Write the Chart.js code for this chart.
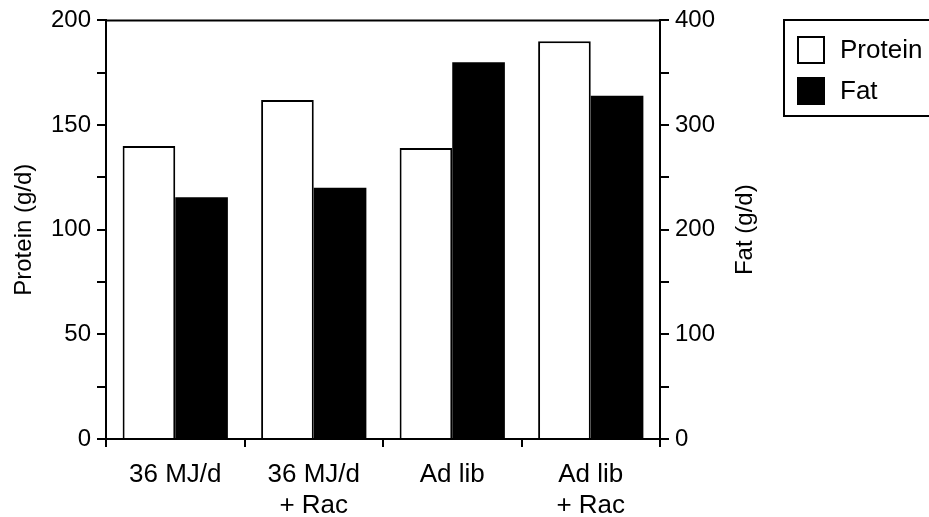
<!DOCTYPE html>
<html>
<head>
<meta charset="utf-8">
<title>Protein and fat</title>
<script src="https://cdn.jsdelivr.net/npm/chart.js"></script>
<style>
    body { margin: 0; background: #fff; }
    #chartContainer { width: 929px; height: 517px; }
</style>
</head>
<body>
<div id="chartContainer">
    <canvas id="myChart" width="929" height="517"></canvas>
</div>
<script>
/**
 * DATA
 */
const groups = [['36 MJ/d'], ['36 MJ/d', '+ Rac'], ['Ad lib'], ['Ad lib', '+ Rac']]
const proteinValues = [140, 162, 139, 190]   // g/d, left axis
const fatValues = [231, 240, 360, 328]       // g/d, right axis
const proteinTicks = [0, 50, 100, 150, 200]
const fatTicks = [0, 100, 200, 300, 400]
const fatAxisTitle = 'Fat (g/d)'

const fontFamily = '"Liberation Sans", Arial, Helvetica, sans-serif'
const black = '#000'

// top edge of the plot box
const topLine = {
    id: 'topLine',
    afterDraw: (chart) => {
        let { ctx, chartArea } = chart
        ctx.save()
        ctx.strokeStyle = black
        ctx.lineWidth = 2
        ctx.beginPath()
        ctx.moveTo(chartArea.left, chartArea.top)
        ctx.lineTo(chartArea.right, chartArea.top)
        ctx.stroke()
        ctx.restore()
    }
}

// right axis title, reading bottom to top like the left one
const rightTitle = {
    id: 'rightTitle',
    afterDraw: (chart) => {
        let { ctx, chartArea } = chart
        let scale = chart.scales.y1
        ctx.save()
        ctx.translate(scale.right - 15, (chartArea.top + chartArea.bottom) / 2)
        ctx.rotate(-Math.PI / 2)
        ctx.font = '24px ' + fontFamily
        ctx.fillStyle = black
        ctx.textAlign = 'center'
        ctx.textBaseline = 'middle'
        ctx.fillText(fatAxisTitle, 0, 0)
        ctx.restore()
    }
}

// boxed legend on the right side
const boxLegend = {
    id: 'boxLegend',
    afterDraw: (chart) => {
        let ctx = chart.ctx
        ctx.save()
        ctx.strokeStyle = black
        ctx.lineWidth = 2
        ctx.strokeRect(784, 20, 160, 96)
        ctx.font = '26px ' + fontFamily
        ctx.textBaseline = 'middle'
        ctx.fillStyle = black
        chart.data.datasets.forEach((ds, i) => {
            let y = 37 + i * 41
            ctx.fillStyle = ds.backgroundColor
            ctx.fillRect(798, y, 26, 26)
            ctx.strokeRect(798, y, 26, 26)
            ctx.fillStyle = black
            ctx.fillText(ds.label, 840, y + 14)
        })
        ctx.restore()
    }
}

const data = {
    labels: groups,
    datasets: [{
        label: 'Protein',
        data: proteinValues,
        backgroundColor: '#fff',
        borderColor: black,
        borderWidth: 2,
        yAxisID: 'y'
    }, {
        label: 'Fat',
        data: fatValues,
        backgroundColor: black,
        borderColor: black,
        borderWidth: 0,
        yAxisID: 'y1'
    }]
}

let tickFont = { family: fontFamily, size: 24 }

const config = {
    type: 'bar',
    data: data,
    options: {
        responsive: false,
        animation: false,
        categoryPercentage: 0.76,
        barPercentage: 1.0,
        layout: { padding: { top: 8, right: 169, bottom: 0, left: 0 } },
        plugins: {
            legend: { display: false },
            tooltip: { enabled: false }
        },
        scales: {
            x: {
                offset: true,
                grid: { offset: true, drawOnChartArea: false, drawTicks: true, tickLength: 8, color: black, lineWidth: 2 },
                border: { display: true, color: black, width: 2 },
                ticks: { color: black, font: { family: fontFamily, size: 26 }, padding: 12, maxRotation: 0 },
                afterFit: (scale) => { scale.height = 78 }
            },
            y: {
                position: 'left',
                min: 0,
                max: 200,
                grid: { drawOnChartArea: false, tickLength: 9, color: black, lineWidth: 2 },
                border: { display: true, color: black, width: 2 },
                ticks: {
                    stepSize: 25,
                    color: black,
                    font: tickFont,
                    padding: 6,
                    callback: (v) => proteinTicks.includes(v) ? v : ''
                },
                title: { display: true, text: 'Protein (g/d)', color: black, font: tickFont, padding: { top: 10, bottom: 0 } },
                afterFit: (scale) => { scale.width = 106 }
            },
            y1: {
                position: 'right',
                min: 0,
                max: 400,
                grid: { drawOnChartArea: false, tickLength: 9, color: black, lineWidth: 2 },
                border: { display: true, color: black, width: 2 },
                ticks: {
                    stepSize: 50,
                    color: black,
                    font: tickFont,
                    padding: 6,
                    callback: (v) => fatTicks.includes(v) ? v : ''
                },
                afterFit: (scale) => { scale.width = 100 }
            }
        }
    },
    plugins: [topLine, rightTitle, boxLegend]
}

const myChart = new Chart(document.getElementById('myChart'), config)
</script>
</body>
</html>
